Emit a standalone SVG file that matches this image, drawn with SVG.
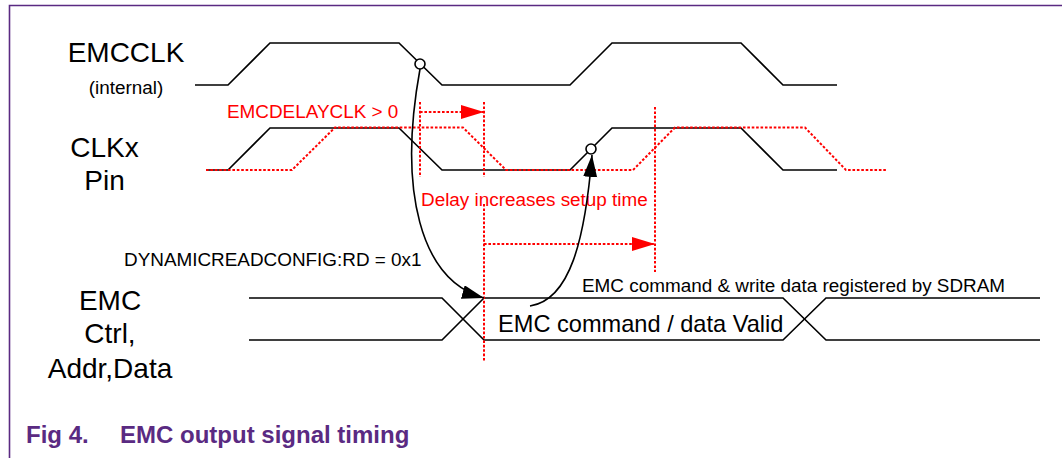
<svg xmlns="http://www.w3.org/2000/svg" width="1062" height="458" viewBox="0 0 1062 458">
<style>
text{font-family:"Liberation Sans",Arial,sans-serif;fill:#000}
.big{font-size:28px}
.sm{font-size:18.9px}
.red{fill:#ff0000}
.wave{fill:none;stroke:#000;stroke-width:1.6}
.dot{fill:none;stroke:#ff0000;stroke-width:2;stroke-dasharray:2.6,1.8}
.cap{font-size:24px;font-weight:bold;fill:#5a2a82}
</style>
<defs>
<marker id="ah" markerUnits="userSpaceOnUse" markerWidth="24" markerHeight="16" refX="22" refY="7" orient="auto">
<path d="M0,0 L22,7 L0,14 Z" fill="#000"/>
</marker>
<marker id="rh" markerUnits="userSpaceOnUse" markerWidth="25" markerHeight="16" refX="23" refY="7" orient="auto">
<path d="M0,0 L23,7 L0,14 Z" fill="#ff0000"/>
</marker>
</defs>
<rect width="1062" height="458" fill="#fff"/>
<path d="M9.5,458 V5.5 H1062" fill="none" stroke="#5a2a82" stroke-width="1.6"/>

<g id="labels">
<text class="big" x="126" y="62" text-anchor="middle">EMCCLK</text>
<text class="sm" x="126" y="94" text-anchor="middle">(internal)</text>
<text class="big" x="104.5" y="157" text-anchor="middle">CLKx</text>
<text class="big" x="104.5" y="190" text-anchor="middle">Pin</text>
<text class="big" x="110" y="310" text-anchor="middle">EMC</text>
<text class="big" x="110" y="343" text-anchor="middle">Ctrl,</text>
<text class="big" x="110" y="378" text-anchor="middle">Addr,Data</text>
</g>

<g id="emcclk">
<path class="wave" d="M195,85 H228 L270,43 H399 L442,85 H570 L612,43 H741 L783,85 H837"/>
<circle cx="420" cy="64" r="5" fill="#fff" stroke="#000" stroke-width="1.6"/>
</g>

<g id="clkx">
<path class="wave" d="M206,170 H228 L270,128 H399 L442,170 H570 L612,128 H741 L783,170 H837"/>
<path class="dot" d="M206,170 H292 L335,127.5 H463 L506,170 H633 L675,127.5 H805 L846,170 H886"/>
<circle cx="591" cy="149" r="5" fill="#fff" stroke="#000" stroke-width="1.6"/>
</g>

<g id="emcbus">
<path class="wave" d="M249,298 H442 L484,340 H783 L826,298 H1040"/>
<path class="wave" d="M249,340 H442 L484,298 H783 L826,340 H1040"/>
<text x="498" y="332" style="font-size:23.6px">EMC command / data Valid</text>
<text class="sm" x="582" y="292">EMC command &amp; write data registered by SDRAM</text>
</g>

<g id="timing">
<path class="dot" d="M420,102 V177"/>
<path class="dot" d="M484,102 V177"/>
<path class="dot" d="M484,204 V362"/>
<path class="dot" d="M655,107 V272"/>
<path class="dot" d="M420,112 H484" marker-end="url(#rh)"/>
<path class="dot" d="M484,244 H655" marker-end="url(#rh)"/>
<text class="sm red" x="227" y="118">EMCDELAYCLK &gt; 0</text>
<text class="sm red" x="421" y="206">Delay increases setup time</text>
<text class="sm" x="124" y="266">DYNAMICREADCONFIG:RD = 0x1</text>
</g>

<g id="connectors">
<path class="wave" d="M420,69 C398,190 420,280 484,298" marker-end="url(#ah)"/>
<path class="wave" d="M530,306 C570,300 585,240 592,155" marker-end="url(#ah)"/>
</g>

<g id="caption">
<text class="cap" x="26" y="443">Fig 4.</text>
<text class="cap" x="120" y="443">EMC output signal timing</text>
</g>
</svg>
